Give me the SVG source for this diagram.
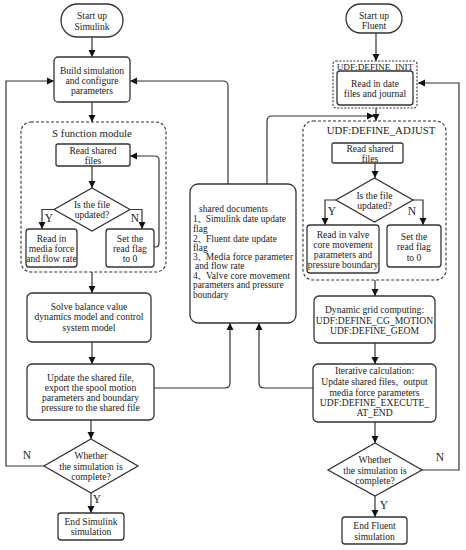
<svg xmlns="http://www.w3.org/2000/svg" width="466" height="550" viewBox="0 0 466 550" font-family="'Liberation Serif', 'Times New Roman', serif">
<style>
.b{fill:#fff;stroke:#333;stroke-width:1.3}
.d{fill:none;stroke:#333;stroke-width:1.1;stroke-dasharray:3 2}
.c{fill:none;stroke:#333;stroke-width:1.2}
text{font-family:'Liberation Serif','Times New Roman',serif;font-size:9.6px;fill:#222;text-anchor:middle}
.l{text-anchor:start;font-size:9.4px}
.big{font-size:10.8px}
.yn{font-size:11.5px}
.cjk{font-family:'Noto Sans CJK SC',sans-serif;font-size:8px}
</style>
<defs>
<marker id="a" markerWidth="8" markerHeight="8" refX="7" refY="4" orient="auto" markerUnits="userSpaceOnUse">
<path d="M0,0.5 L7,4 L0,7.5 z" fill="#111"/>
</marker>
</defs>
<rect width="466" height="550" fill="#fff"/>

<g id="connectors">
<path class="c" d="M92,37 V57" marker-end="url(#a)"/>
<path class="c" d="M92,102 V122" marker-end="url(#a)"/>
<path class="c" d="M92,166 V188" marker-end="url(#a)"/>
<path class="c" d="M54,209.5 H42 V229" marker-end="url(#a)"/>
<path class="c" d="M130,209.5 H142 V229" marker-end="url(#a)"/>
<path class="c" d="M154,247 H155 Q159,247 159,243 V160 Q159,156 155,156 H130" marker-end="url(#a)"/>
<path class="c" d="M92,272 V293" marker-end="url(#a)"/>
<path class="c" d="M92,342 V364" marker-end="url(#a)"/>
<path class="c" d="M154,388 H225 Q230,388 230,383 V323" marker-end="url(#a)"/>
<path class="c" d="M91,420 V439" marker-end="url(#a)"/>
<path class="c" d="M44,466 H6 V81 H54" marker-end="url(#a)"/>
<path class="c" d="M91,493 V513" marker-end="url(#a)"/>
<path class="c" d="M228,184 V86 Q228,81 223,81 H130" marker-end="url(#a)"/>
<path class="c" d="M267,184 V121 Q267,116 272,116 H374" marker-end="url(#a)"/>
<path class="c" d="M376,33 V61" marker-end="url(#a)"/>
<path class="c" d="M376,108 V121" marker-end="url(#a)"/>
<path class="c" d="M422,470 H459 V83 H418" marker-end="url(#a)"/>
<path class="c" d="M375,163 V178" marker-end="url(#a)"/>
<path class="c" d="M336,200 H325 V225" marker-end="url(#a)"/>
<path class="c" d="M413,200 H423 V225" marker-end="url(#a)"/>
<path class="c" d="M375,280 V296" marker-end="url(#a)"/>
<path class="c" d="M375,343 V364" marker-end="url(#a)"/>
<path class="c" d="M313,388 H264 Q259,388 259,383 V323" marker-end="url(#a)"/>
<path class="c" d="M375,422 V443" marker-end="url(#a)"/>
<path class="c" d="M375,496 V517" marker-end="url(#a)"/>
</g>

<g id="labels">
<text class="yn" x="49" y="222">Y</text>
<text class="yn" x="135" y="222">N</text>
<text class="yn" x="27" y="459">N</text>
<text class="yn" x="97" y="503">Y</text>
<text class="yn" x="332" y="215">Y</text>
<text class="yn" x="412" y="215">N</text>
<text class="yn" x="384" y="509">Y</text>
<text class="yn" x="440" y="461">N</text>
</g>

<g id="start-simulink">
<rect class="b" x="61" y="4" width="62" height="33" rx="16.5"/>
<text x="92" y="19">Start up</text>
<text x="92" y="29.5">Simulink</text>
</g>
<g id="build">
<rect class="b" x="54" y="57" width="76" height="45" rx="4"/>
<text x="92" y="74">Build simulation</text>
<text x="92" y="84">and configure</text>
<text x="92" y="93.5">parameters</text>
</g>
<g id="s-function">
<rect class="d" x="21" y="122" width="145" height="150" rx="10"/>
<text x="92" y="137" class="big">S function module</text>
</g>
<g id="read-shared-left">
<rect class="b" x="56" y="144" width="74" height="22" rx="2"/>
<text x="93" y="153.5">Read shared</text>
<text x="93" y="164">files</text>
</g>
<g id="updated-left">
<polygon class="b" points="92,188 130,209.5 92,231 54,209.5"/>
<text x="92" y="207.5">Is the file</text>
<text x="92" y="218">updated?</text>
</g>
<g id="read-media">
<rect class="b" x="26" y="229" width="51" height="38" rx="3"/>
<text x="51.5" y="241.5">Read in</text>
<text x="51.5" y="251.5">media force</text>
<text x="51.5" y="262">and flow rate</text>
</g>
<g id="set-flag-left">
<rect class="b" x="106" y="229" width="48" height="38" rx="3"/>
<text x="130" y="241.5">Set the</text>
<text x="130" y="251.5">read flag</text>
<text x="130" y="262">to 0</text>
</g>
<g id="solve">
<rect class="b" x="27" y="293" width="124" height="49" rx="5"/>
<text x="89" y="309.5">Solve balance value</text>
<text x="89" y="320">dynamics model and control</text>
<text x="89" y="330.5">system model</text>
</g>
<g id="update">
<rect class="b" x="27" y="364" width="127" height="56" rx="5"/>
<text x="90.5" y="381">Update the shared file,</text>
<text x="90.5" y="391">export the spool motion</text>
<text x="90.5" y="401">parameters and boundary</text>
<text x="90.5" y="411">pressure to the shared file</text>
</g>
<g id="complete-left">
<polygon class="b" points="91,439 138,466 91,493 44,466"/>
<text x="91" y="459">Whether</text>
<text x="91" y="469.5">the simulation is</text>
<text x="91" y="480">complete?</text>
</g>
<g id="end-simulink">
<rect class="b" x="58" y="513" width="66" height="27" rx="3"/>
<text x="91" y="524.5">End Simulink</text>
<text x="91" y="535">simulation</text>
</g>

<g id="shared-documents">
<rect class="b" x="190" y="184" width="106" height="139" rx="8"/>
<text class="l" x="199" y="212.3" textLength="69">shared documents</text>
<text class="l" x="193" y="222.3" textLength="93">1<tspan class="cjk">、</tspan>Simulink date update</text>
<text class="l" x="193" y="231.6">flag</text>
<text class="l" x="193" y="241.6" textLength="84">2<tspan class="cjk">、</tspan>Fluent date update</text>
<text class="l" x="193" y="251">flag</text>
<text class="l" x="193" y="260" textLength="100">3<tspan class="cjk">、</tspan>Media force parameter</text>
<text class="l" x="195" y="269.3">and flow rate</text>
<text class="l" x="193" y="279" textLength="97">4<tspan class="cjk">、</tspan>Valve core movement</text>
<text class="l" x="193" y="288.3">parameters and pressure</text>
<text class="l" x="193" y="297.5">boundary</text>
</g>

<g id="start-fluent">
<rect class="b" x="346" y="4" width="56" height="29" rx="14.5"/>
<text x="374" y="19">Start up</text>
<text x="374" y="29">Fluent</text>
</g>
<g id="define-init">
<rect class="d" x="333" y="61" width="84" height="47" rx="3" style="stroke-dasharray:2 1.5"/>
<text x="375" y="69.5" style="font-size:9.2px">UDF:DEFINE_INIT</text>
<rect class="b" x="337" y="71" width="76" height="34" rx="3"/>
<text x="375" y="87">Read in date</text>
<text x="375" y="97">files and journal</text>
</g>
<g id="define-adjust">
<rect class="d" x="303" y="121" width="143" height="159" rx="10"/>
<text x="381" y="134" class="big">UDF:DEFINE_ADJUST</text>
</g>
<g id="read-shared-right">
<rect class="b" x="332" y="143" width="71" height="20" rx="2"/>
<text x="370" y="151.5">Read shared</text>
<text x="370" y="161.5">files</text>
</g>
<g id="updated-right">
<polygon class="b" points="374.5,178 413,200 374.5,222 336,200"/>
<text x="374.5" y="198.5">Is the file</text>
<text x="374.5" y="208.5">updated?</text>
</g>
<g id="read-valve">
<rect class="b" x="307" y="225" width="72" height="48" rx="3"/>
<text x="343" y="237.5">Read in valve</text>
<text x="343" y="247.5">core movement</text>
<text x="343" y="257.5">parameters and</text>
<text x="343" y="268">pressure boundary</text>
</g>
<g id="set-flag-right">
<rect class="b" x="387" y="225" width="54" height="42" rx="3"/>
<text x="414" y="240">Set the</text>
<text x="414" y="250">read flag</text>
<text x="414" y="260.5">to 0</text>
</g>
<g id="dynamic-grid">
<rect class="b" x="314" y="296" width="121" height="47" rx="5"/>
<text x="374.5" y="313">Dynamic grid computing:</text>
<text x="374.5" y="323.5">UDF:DEFINE_CG_MOTION</text>
<text x="374.5" y="334">UDF:DEFINE_GEOM</text>
</g>
<g id="iterative">
<rect class="b" x="313" y="364" width="123" height="58" rx="5"/>
<text x="374.5" y="374">Iterative calculation:</text>
<text x="374.5" y="385">Update shared files<tspan class="cjk">、</tspan>output</text>
<text x="374.5" y="395.5">media force parameters</text>
<text x="374.5" y="406">UDF:DEFINE_EXECUTE_</text>
<text x="374.5" y="416">AT_END</text>
</g>
<g id="complete-right">
<polygon class="b" points="375,443 422,470 375,496 328,470"/>
<text x="375" y="463">Whether</text>
<text x="375" y="473.5">the simulation is</text>
<text x="375" y="483.5">complete?</text>
</g>
<g id="end-fluent">
<rect class="b" x="342" y="517" width="65" height="27" rx="3"/>
<text x="374.5" y="529">End Fluent</text>
<text x="374.5" y="539.5">simulation</text>
</g>
</svg>
